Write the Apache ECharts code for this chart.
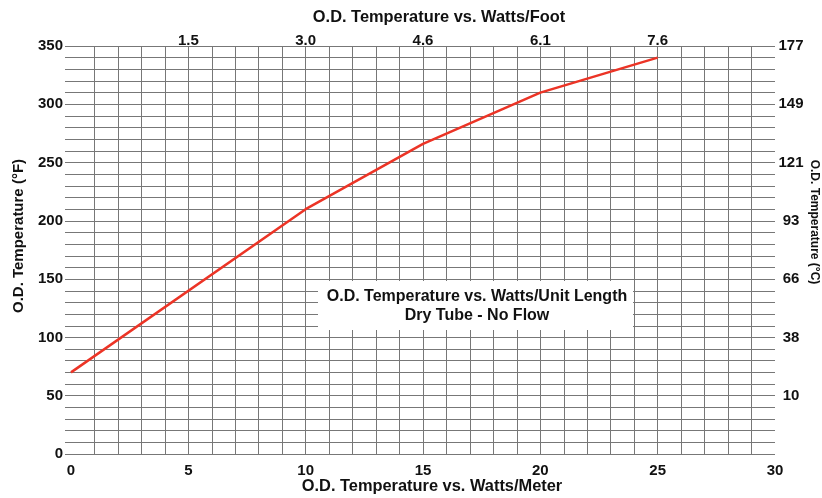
<!DOCTYPE html>
<html>
<head>
<meta charset="utf-8">
<script src="https://cdn.jsdelivr.net/npm/echarts@6/dist/echarts.min.js"></script>
<style>
html,body{margin:0;padding:0;background:#fff;}
#chart{width:822px;height:498px;}
</style>
</head>
<body>
<div id="chart"></div>
<script>
// Data
var wattsPerMeter = [0, 10, 15, 20, 25];
var tempF = [70, 210, 266, 310, 340];
var topTickValues = [5, 10, 15, 20, 25];
var topTickLabels = ['1.5', '3.0', '4.6', '6.1', '7.6'];
var rightTickValues = [50, 100, 150, 200, 250, 300, 350];
var rightTickLabels = ['10', '38', '66', '93', '121', '149', '177'];
var titleTop = 'O.D. Temperature vs. Watts/Foot';
var titleBottom = 'O.D. Temperature vs. Watts/Meter';
var titleLeft = 'O.D. Temperature (°F)';
var titleRight = 'O.D. Temperature (°C)';
var boxLines = ['O.D. Temperature vs. Watts/Unit Length', 'Dry Tube - No Flow'];

var FONT = "'Liberation Sans', Arial, Helvetica, sans-serif";
var GRID = '#777777';
var TXT = '#111';

var seriesData = wattsPerMeter.map(function (x, i) { return [x, tempF[i]]; });

var chart = echarts.init(document.getElementById('chart'), null, {renderer: 'canvas'});
chart.setOption({
  animation: false,
  backgroundColor: '#fff',
  grid: {left: 71, right: 47, top: 46, bottom: 44, containLabel: false},
  xAxis: [
    {
      type: 'value', position: 'bottom', min: 0, max: 30, interval: 1,
      axisLine: {show: false}, axisTick: {show: false},
      axisLabel: {
        margin: 9, fontFamily: FONT, fontSize: 15, fontWeight: 'bold', color: TXT,
        formatter: function (v) { return v % 5 === 0 ? String(v) : ''; }
      },
      splitLine: {show: true, showMinLine: false, showMaxLine: false, lineStyle: {color: GRID, width: 1}}
    },
    {
      type: 'value', position: 'top', min: 0, max: 30, interval: 5,
      axisLine: {show: false}, axisTick: {show: false}, splitLine: {show: false},
      axisLabel: {
        margin: -2, fontFamily: FONT, fontSize: 15, fontWeight: 'bold', color: TXT,
        formatter: function (v) { var i = topTickValues.indexOf(v); return i >= 0 ? topTickLabels[i] : ''; }
      }
    }
  ],
  yAxis: [
    {
      type: 'value', position: 'left', min: 0, max: 350, interval: 10,
      axisLine: {show: false},
      axisTick: {show: true, length: 6, lineStyle: {color: GRID, width: 1}},
      axisLabel: {
        margin: 8, fontFamily: FONT, fontSize: 15, fontWeight: 'bold', color: TXT,
        formatter: function (v) { return v % 50 === 0 ? String(v) : ''; }
      },
      splitLine: {show: true, lineStyle: {color: GRID, width: 1}}
    },
    {
      type: 'value', position: 'right', min: 0, max: 350, interval: 10,
      axisLine: {show: false}, axisTick: {show: false}, splitLine: {show: false},
      axisLabel: {
        margin: 16, align: 'center', fontFamily: FONT, fontSize: 15, fontWeight: 'bold', color: TXT,
        formatter: function (v) { var i = rightTickValues.indexOf(v); return i >= 0 ? rightTickLabels[i] : ''; }
      }
    }
  ],
  series: [{
    type: 'line', xAxisIndex: 0, yAxisIndex: 0, data: seriesData,
    showSymbol: false, symbol: 'none',
    lineStyle: {color: '#ec3426', width: 2.5}
  }],
  graphic: [
    {type: 'text', x: 439, y: 17, style: {text: titleTop, font: 'bold 16.4px ' + FONT, fill: TXT, align: 'center', verticalAlign: 'middle'}},
    {type: 'text', x: 432, y: 486, style: {text: titleBottom, font: 'bold 16.4px ' + FONT, fill: TXT, align: 'center', verticalAlign: 'middle'}},
    {type: 'text', x: 19, y: 236, rotation: Math.PI / 2, style: {text: titleLeft, font: 'bold 15px ' + FONT, fill: TXT, align: 'center', verticalAlign: 'middle'}},
    {type: 'text', x: 814, y: 222, rotation: -Math.PI / 2, style: {text: titleRight, font: 'bold 12px ' + FONT, fill: TXT, align: 'center', verticalAlign: 'middle'}},
    {type: 'rect', shape: {x: 318, y: 281, width: 315, height: 49}, style: {fill: '#fff'}, z: 100},
    {type: 'text', x: 477, y: 297, z: 101, style: {text: boxLines[0], font: 'bold 16px ' + FONT, fill: TXT, align: 'center', verticalAlign: 'middle'}},
    {type: 'text', x: 477, y: 316, z: 101, style: {text: boxLines[1], font: 'bold 16px ' + FONT, fill: TXT, align: 'center', verticalAlign: 'middle'}}
  ]
});
</script>
</body>
</html>
